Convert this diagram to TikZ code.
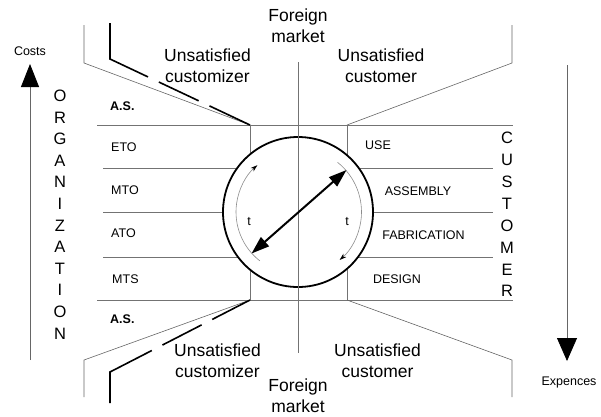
\documentclass[tikz,border=0pt]{standalone}
\usepackage{fontspec}
\setmainfont{Liberation Sans}
\usetikzlibrary{arrows.meta}

\begin{document}
\begin{tikzpicture}[x=1pt,y=-1pt,
  grid/.style={draw=black!55, line width=0.9pt},
  slant/.style={draw=black!60, line width=0.6pt},
  bound/.style={draw=black, line width=1.6pt,
    dash pattern=on 78pt off 12pt on 44pt off 12pt on 60pt},
  big/.style={font=\fontsize{17.5}{21}\selectfont, align=center, inner sep=0pt},
  tag/.style={font=\fontsize{12.5}{15}\selectfont, inner sep=0pt},
  letters/.style={font=\fontsize{16.5}{21.6}\selectfont, align=center, inner sep=0pt},
  axis/.style={draw=black!60, line width=0.8pt},
  timearc/.style={draw=black!45, line width=0.6pt,
    -{Stealth[length=7pt,width=4.5pt,black]}},
  flow/.style={draw=black, line width=2pt,
    {Triangle[length=18pt,width=12pt]}-{Triangle[length=18pt,width=12pt]}}]
\useasboundingbox (0,0) rectangle (601,416);

% corners of the central block
\coordinate (tl) at (250,125);
\coordinate (tr) at (347,125);
\coordinate (bl) at (250,300);
\coordinate (br) at (347,300);

% level lines of both ladders
\draw[grid] (97,125) -- (513,125);
\draw[grid] (103,168) -- (493,168);
\draw[grid] (103,212) -- (493,212);
\draw[grid] (103,257) -- (493,257);
\draw[grid] (97,300) -- (513,300);
\draw[grid] (tl) -- (bl);
\draw[grid] (tr) -- (br);

% funnels towards the markets
\draw[slant] (84,25) -- (84,63) -- (tl);
\draw[slant] (512,25) -- (512,63) -- (tr);
\draw[slant] (84,397) -- (84,360) -- (bl);
\draw[slant] (512,397) -- (512,360) -- (br);

% customizer boundaries
\draw[bound] (110,23) -- (110,59) -- (tl);
\draw[bound] (110,403) -- (110,372) -- (bl);

% decoupling wheel
\node[circle, draw=black, line width=1.8pt, fill=white, minimum size=150pt,
  inner sep=0pt] (wheel) at (298,212) {};
\draw[grid] (298,62) -- (298,353);
\draw[timearc] (wheel.center) ++(128:62) arc[start angle=128, end angle=229, radius=62];
\draw[timearc] (wheel.center) ++(-51.5:63.5) arc[start angle=-51.5, end angle=49, radius=63.5];
\coordinate (pushend) at (251.5,253.5);
\coordinate (pullend) at (346.5,170);
\draw[flow] (pushend) -- (pullend);
\node[tag] (tleft) at (249,221) {t};
\node[tag] (tright) at (347,221) {t};

% market and customer labels
\node[big] (fmtop) at (298,26) {Foreign\\market};
\node[big] (fmbot) at (298,396) {Foreign\\market};
\node[big] (uctl) at (207.5,66) {Unsatisfied\\customizer};
\node[big] (uctr) at (381,66) {Unsatisfied\\customer};
\node[big] (ucbl) at (217.5,361) {Unsatisfied\\customizer};
\node[big] (ucbr) at (377.5,361) {Unsatisfied\\customer};

% organization side
\node[letters] (org) at (60,214.5) {O\\R\\G\\A\\N\\I\\Z\\A\\T\\I\\O\\N};
\node[tag, anchor=west, font=\fontsize{12.5}{15}\selectfont\bfseries] (astop) at (110,106) {A.S.};
\node[tag, anchor=west] (eto) at (111,147) {ETO};
\node[tag, anchor=west] (mto) at (111,190) {MTO};
\node[tag, anchor=west] (ato) at (111,233) {ATO};
\node[tag, anchor=west] (mts) at (112,279) {MTS};
\node[tag, anchor=west, font=\fontsize{12.5}{15}\selectfont\bfseries] (asbot) at (110,319) {A.S.};

% customer side
\node[letters, font=\fontsize{16.5}{21.9}\selectfont] (cust) at (507,214.5) {C\\U\\S\\T\\O\\M\\E\\R};
\node[tag] (use) at (378,145) {USE};
\node[tag] (asm) at (418,191) {ASSEMBLY};
\node[tag] (fab) at (423.5,235) {FABRICATION};
\node[tag] (des) at (397,279) {DESIGN};

% cost and expense axes
\node[tag] (costs) at (30,51) {Costs};
\coordinate (costfoot) at (30,360);
\coordinate (costtip) at (30,64);
\draw[axis, -{Triangle[length=23pt,width=18pt,black]}] (costfoot) -- (costtip);
\node[tag] (exp) at (569,382) {Expences};
\coordinate (exptop) at (567,65);
\coordinate (exptip) at (567,361);
\draw[axis, -{Triangle[length=23pt,width=20pt,black]}] (exptop) -- (exptip);
\end{tikzpicture}
\end{document}
